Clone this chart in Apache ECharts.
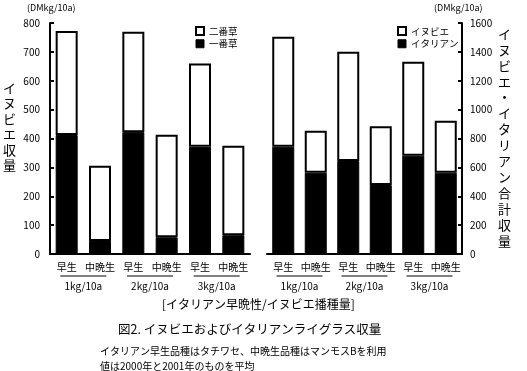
<!DOCTYPE html>
<html><head><meta charset="utf-8">
<script src="https://cdn.jsdelivr.net/npm/echarts@6/dist/echarts.min.js"></script>
<style>html,body{margin:0;padding:0;background:#fff}#c{width:527px;height:371px}</style>
</head><body><div id="c"></div>
<script>
const categories = ['早生','中晩生','早生','中晩生','早生','中晩生'];
const groupLabels = ['1kg/10a','2kg/10a','3kg/10a'];
// left chart (DMkg/10a)
const ichiban = [412, 45, 422, 58, 371, 65];     // 一番草
const niban   = [360, 261, 348, 355, 289, 310];  // 二番草
// right chart (DMkg/10a)
const italian = [743, 563, 644, 478, 681, 563];  // イタリアン
const inubie  = [762, 291, 757, 406, 651, 360];  // イヌビエ
const leftTicks = {min:0, max:800, interval:100};
const rightTicks = {min:0, max:1600, interval:200};

const F = '"Noto Sans CJK JP", "Noto Sans", sans-serif';
const chart = echarts.init(document.getElementById('c'));

function xCat(grid){
  return {type:'category', gridIndex:grid, data:categories,
    axisLine:{lineStyle:{color:'#000', width:2}},
    axisTick:{inside:true, length:3, lineStyle:{color:'#000', width:2}},
    axisLabel:{color:'#000', fontFamily:F, fontSize:10, margin:8, interval:0}};
}
function xGroup(grid){
  return {type:'category', gridIndex:grid, data:groupLabels, position:'bottom', offset:25,
    axisLine:{show:false}, axisTick:{show:false},
    axisLabel:{interval:0, margin:0, fontFamily:F, fontSize:10, color:'#000', lineHeight:14}};
}
function yAx(grid, t, pos, margin){
  return {type:'value', gridIndex:grid, position:pos, min:t.min, max:t.max, interval:t.interval,
    axisLine:{show:true, lineStyle:{color:'#000', width:2}},
    axisTick:{show:true, inside:true, length:4, lineStyle:{color:'#000', width:2}},
    splitLine:{show:false},
    axisLabel:{color:'#000', fontFamily:F, fontSize:10, margin:margin, formatter: v => String(v)}};
}
const blackStyle = {color:'#000', borderColor:'#000', borderWidth:1};
const whiteStyle = {color:'#fff', borderColor:'#000', borderWidth:2};
const legText = {fontFamily:F, fontSize:9.5, color:'#000'};

const graphics = [
  {type:'text', left:27, top:3, style:{text:'(DMkg/10a)', font:'9px '+F, fill:'#000'}},
  {type:'text', left:434, top:3, style:{text:'(DMkg/10a)', font:'9px '+F, fill:'#000'}},
  {type:'text', left:3, top:80, style:{text:'イ\nヌ\nビ\nエ\n収\n量', font:'13px '+F, fill:'#000', lineHeight:15.5}},
  {type:'text', left:498, top:26, style:{text:'イ\nヌ\nビ\nエ\n・\nイ\nタ\nリ\nア\nン\n合\n計\n収\n量', font:'13px '+F, fill:'#000', lineHeight:15.9}}
];

const option = {
  animation:false,
  textStyle:{fontFamily:F},
  grid:[{left:50, top:23, width:200, height:231},
        {left:267, top:23, width:195, height:231}],
  xAxis:[xCat(0), xCat(1), xGroup(0), xGroup(1)],
  yAxis:[yAx(0, leftTicks, 'left', 10), yAx(1, rightTicks, 'right', 8)],
  legend:[
    {left:190, top:21, orient:'vertical', itemWidth:8, itemHeight:8, itemGap:3, icon:'rect', textStyle:legText,
     data:[{name:'二番草', itemStyle:{color:'#fff', borderColor:'#000', borderWidth:2}},
           {name:'一番草', itemStyle:{color:'#000', borderColor:'#000', borderWidth:1}}]},
    {left:392, top:21, orient:'vertical', itemWidth:8, itemHeight:8, itemGap:3, icon:'rect', textStyle:legText,
     data:[{name:'イヌビエ', itemStyle:{color:'#fff', borderColor:'#000', borderWidth:2}},
           {name:'イタリアン', itemStyle:{color:'#000', borderColor:'#000', borderWidth:1}}]}
  ],
  title:[
    {text:'[イタリアン早晩性/イヌビエ播種量]', left:157, top:293, textStyle:{fontFamily:F, fontSize:12, fontWeight:'normal', color:'#000'}},
    {text:'図2. イヌビエおよびイタリアンライグラス収量', left:113, top:318, textStyle:{fontFamily:F, fontSize:12.5, fontWeight:'normal', color:'#000'}},
    {text:'イタリアン早生品種はタチワセ、中晩生品種はマンモスBを利用\n値は2000年と2001年のものを平均', left:95, top:339,
     textStyle:{fontFamily:F, fontSize:10, fontWeight:'normal', color:'#000', lineHeight:15}}
  ],
  graphic: graphics,
  series:[
    {name:'一番草', type:'bar', stack:'L', xAxisIndex:0, yAxisIndex:0, data:ichiban, barWidth:22, itemStyle:blackStyle},
    {name:'二番草', type:'bar', stack:'L', xAxisIndex:0, yAxisIndex:0, data:niban, barWidth:22, itemStyle:whiteStyle},
    {name:'イタリアン', type:'bar', stack:'R', xAxisIndex:1, yAxisIndex:1, data:italian, barWidth:22, itemStyle:blackStyle},
    {name:'イヌビエ', type:'bar', stack:'R', xAxisIndex:1, yAxisIndex:1, data:inubie, barWidth:22, itemStyle:whiteStyle}
  ]
};
chart.setOption(option);

// group underlines beneath each pair of category labels
[0, 1].forEach(g => {
  for (let i = 0; i < groupLabels.length; i++) {
    const a = chart.convertToPixel({xAxisIndex:g}, i*2);
    const b = chart.convertToPixel({xAxisIndex:g}, i*2+1);
    const c = (a + b) / 2;
    const y = chart.convertToPixel({yAxisIndex:g}, 0) + 22;
    graphics.push({type:'line', shape:{x1:c-23, y1:y, x2:c+23, y2:y}, style:{stroke:'#000', lineWidth:1}});
  }
});
chart.setOption({graphic: graphics}, {replaceMerge:['graphic']});
</script></body></html>
